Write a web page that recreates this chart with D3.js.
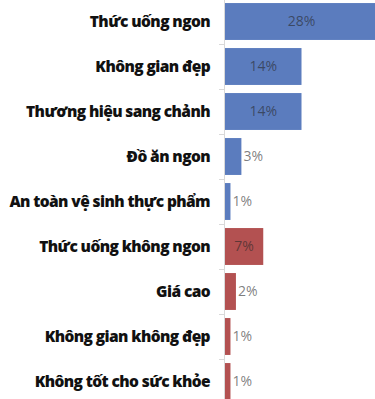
<!DOCTYPE html>
<html>
<head>
<meta charset="utf-8">
<script src="https://cdn.jsdelivr.net/npm/d3@7"></script>
<style>
  html, body { margin: 0; padding: 0; background: #fff; }
  svg { display: block; }
</style>
</head>
<body>
<svg id="chart" width="375" height="399"></svg>
<script>
// Survey reasons: positive factors (blue) followed by negative ones (red)
const categories = [
  "Thức uống ngon",
  "Không gian đẹp",
  "Thương hiệu sang chảnh",
  "Đồ ăn ngon",
  "An toàn vệ sinh thực phẩm",
  "Thức uống không ngon",
  "Giá cao",
  "Không gian không đẹp",
  "Không tốt cho sức khỏe"
];
const values = [28, 14, 14, 3, 1, 7, 2, 1, 1];
const groups = ["pos", "pos", "pos", "pos", "pos", "neg", "neg", "neg", "neg"];
const groupColors = { pos: "#5b7cbe", neg: "#b35151" };

const svg = d3.select("#chart");
const x0 = 225;

const x = d3.scaleLinear().domain([0, 28]).range([0, 153]);
const y = d3.scaleBand()
  .domain(categories)
  .range([-1, 404])
  .paddingInner(0.18)
  .paddingOuter(0.09);

const rows = categories.map((c, i) => ({ cat: c, val: values[i], grp: groups[i] }));

// Bars
svg.append("g").selectAll("rect")
  .data(rows)
  .join("rect")
  .attr("x", x0)
  .attr("y", d => y(d.cat))
  .attr("width", d => x(d.val))
  .attr("height", y.bandwidth())
  .attr("fill", d => groupColors[d.grp]);

// Category axis: light vertical line with small ticks between rows
const axis = svg.append("g").attr("stroke", "#d9d9d9").attr("stroke-width", 1);
axis.append("line")
  .attr("x1", x0 - 0.5).attr("x2", x0 - 0.5)
  .attr("y1", 0).attr("y2", 399);
const step = y.step();
const bounds = d3.range(categories.length + 1).map(k => y.range()[0] + k * step);
axis.selectAll("line.tick")
  .data(bounds)
  .join("line")
  .attr("class", "tick")
  .attr("x1", x0 - 6).attr("x2", x0)
  .attr("y1", d => Math.round(d) + 0.5)
  .attr("y2", d => Math.round(d) + 0.5);

// Category labels
svg.append("g").selectAll("text")
  .data(rows)
  .join("text")
  .attr("x", 210)
  .attr("y", d => y(d.cat) + y.bandwidth() / 2)
  .attr("dy", "0.35em")
  .attr("text-anchor", "end")
  .attr("font-family", "'Open Sans', sans-serif")
  .attr("font-weight", 800)
  .attr("font-size", 15.5)
  .attr("letter-spacing", -0.6)
  .attr("fill", "#111")
  .text(d => d.cat);

// Value labels: centred inside wide bars, just past the end of narrow ones
svg.append("g").selectAll("text")
  .data(rows)
  .join("text")
  .attr("x", d => x(d.val) >= 30 ? x0 + x(d.val) / 2 : x0 + x(d.val) + 2)
  .attr("y", d => y(d.cat) + y.bandwidth() / 2)
  .attr("dy", "0.35em")
  .attr("text-anchor", d => x(d.val) >= 30 ? "middle" : "start")
  .attr("font-family", "'Open Sans', sans-serif")
  .attr("font-weight", 400)
  .attr("font-size", 14)
  .attr("fill", "#262626")
  .attr("fill-opacity", 0.6)
  .text(d => d.val + "%");
</script>
</body>
</html>
